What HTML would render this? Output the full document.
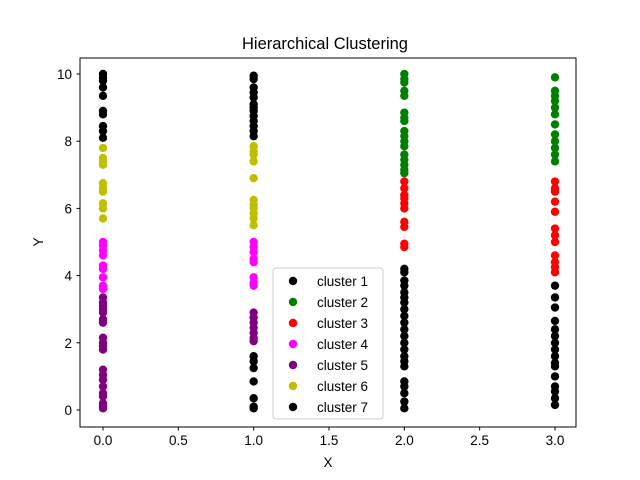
<!DOCTYPE html>
<html><head><meta charset="utf-8"><style>
body{margin:0;background:#fff}
svg{display:block;font-family:"Liberation Sans","DejaVu Sans",sans-serif}
</style></head><body>
<svg id="chart" width="640" height="480">
<rect width="640" height="480" fill="#fff"/>
<text x="325" y="49" text-anchor="middle" font-size="16.5">Hierarchical Clustering</text>
<g id="marks"></g>
<rect x="80" y="58" width="496" height="369" fill="none" stroke="#000" stroke-width="1"/>
<g id="axes"></g>
<text x="328" y="467" text-anchor="middle" font-size="13.5">X</text>
<text x="43" y="242" text-anchor="middle" font-size="13.5" transform="rotate(-90 43 242)">Y</text>
<g id="legend"></g>
</svg>
<script>
const clusterNames=["cluster 1","cluster 2","cluster 3","cluster 4","cluster 5","cluster 6","cluster 7"];
const clusterColors=["#000000","#008000","#ff0000","#ff00ff","#800080","#bfbf00","#000000"];
const xTicks=[0,0.5,1,1.5,2,2.5,3];
const xTickLabels=["0.0","0.5","1.0","1.5","2.0","2.5","3.0"];
const yTicks=[0,2,4,6,8,10];
const c1x=[0,0,0,0,0,0,0,0,0,0,1,1,1,1,1,1,1,1,1,1,1,1,1];
const c1y=[10.0,9.9,9.8,9.6,9.35,8.9,8.8,8.45,8.3,8.1,9.95,9.85,9.6,9.45,9.3,9.1,9.0,8.9,8.75,8.6,8.45,8.3,8.15];
const c2x=[2,2,2,2,2,2,2,2,2,2,2,2,2,2,2,2,2,3,3,3,3,3,3,3,3,3,3,3,3];
const c2y=[10.0,9.85,9.75,9.5,9.35,8.85,8.7,8.6,8.3,8.15,8.0,7.85,7.6,7.45,7.3,7.15,7.05,9.9,9.5,9.35,9.2,9.0,8.8,8.5,8.2,8.0,7.8,7.6,7.4];
const c3x=[2,2,2,2,2,2,2,2,2,2,3,3,3,3,3,3,3,3,3,3,3,3];
const c3y=[6.8,6.6,6.4,6.3,6.15,6.0,5.6,5.45,4.95,4.85,6.8,6.6,6.5,6.2,5.9,5.4,5.2,5.0,4.6,4.4,4.25,4.1];
const c4x=[0,0,0,0,0,0,0,0,0,1,1,1,1,1,1,1,1];
const c4y=[5.0,4.9,4.75,4.6,4.3,4.2,3.95,3.7,3.6,5.0,4.85,4.7,4.5,4.4,3.95,3.8,3.7];
const c5x=[0,0,0,0,0,0,0,0,0,0,0,0,0,0,0,0,0,0,0,0,1,1,1,1,1,1,1];
const c5y=[3.35,3.2,3.1,3.0,2.9,2.7,2.6,2.15,2.0,1.9,1.8,1.2,1.05,0.9,0.7,0.5,0.4,0.2,0.1,0.05,2.9,2.75,2.6,2.45,2.3,2.15,2.05];
const c6x=[0,0,0,0,0,0,0,0,0,0,1,1,1,1,1,1,1,1,1,1,1];
const c6y=[7.8,7.5,7.4,7.3,6.75,6.6,6.5,6.15,6.0,5.7,7.85,7.7,7.6,7.4,6.9,6.25,6.1,6.0,5.85,5.7,5.5];
const c7x=[1,1,1,1,1,1,1,2,2,2,2,2,2,2,2,2,2,2,2,2,2,2,2,2,2,2,2,2,2,3,3,3,3,3,3,3,3,3,3,3,3,3,3,3,3];
const c7y=[1.6,1.45,1.25,0.85,0.35,0.1,0.05,4.2,4.1,3.85,3.7,3.5,3.35,3.2,3.0,2.8,2.6,2.4,2.2,2.0,1.8,1.6,1.45,1.3,0.85,0.7,0.5,0.25,0.05,3.7,3.35,3.05,2.65,2.4,2.2,2.0,1.8,1.6,1.4,1.3,1.0,0.7,0.55,0.35,0.15];
const seriesX=[c1x,c2x,c3x,c4x,c5x,c6x,c7x];
const seriesY=[c1y,c2y,c3y,c4y,c5y,c6y,c7y];

const NS="http://www.w3.org/2000/svg";
function sx(v){return 103+v*(555-103)/3;}
function sy(v){return 410-v*(410-74)/10;}
function mk(t,a){const e=document.createElementNS(NS,t);for(const k in a)e.setAttribute(k,a[k]);return e;}

const marks=document.getElementById('marks');
seriesX.forEach((xs,si)=>{
  const g=mk('g',{});
  
  
  xs.forEach((xv,i)=>{
    const c=mk('circle',{cx:sx(xv),cy:sy(seriesY[si][i]),r:4.2,fill:clusterColors[si]});
    
    
    g.appendChild(c);
  });
  marks.appendChild(g);
});

const axes=document.getElementById('axes');
xTicks.forEach((t,i)=>{
  const x=sx(t);
  const l=mk('line',{x1:x,x2:x,y1:427,y2:430.5,stroke:'#000'});
  
  
  axes.appendChild(l);
  const tx=mk('text',{x:x,y:445,'text-anchor':'middle','font-size':'13.5'});
  tx.textContent=xTickLabels[i];
  
  
  axes.appendChild(tx);
});
yTicks.forEach(t=>{
  const y=sy(t);
  const l=mk('line',{x1:76.5,x2:80,y1:y,y2:y,stroke:'#000'});
  
  
  axes.appendChild(l);
  const tx=mk('text',{x:72,y:y+5,'text-anchor':'end','font-size':'13.5'});
  tx.textContent=String(t);
  
  
  axes.appendChild(tx);
});

const legend=document.getElementById('legend');
const box=mk('rect',{x:273,y:268,width:110,height:151,rx:3,fill:'#fff','fill-opacity':0.8,stroke:'#ccc'});


legend.appendChild(box);
clusterNames.forEach((n,i)=>{
  const y=281+i*21;
  const g=mk('g',{});
  
  
  g.appendChild(mk('circle',{cx:293,cy:y,r:4.2,fill:clusterColors[i]}));
  const tx=mk('text',{x:317,y:y+5,'font-size':'13.5'});
  tx.textContent=n;
  g.appendChild(tx);
  legend.appendChild(g);
});
</script>
</body></html>
